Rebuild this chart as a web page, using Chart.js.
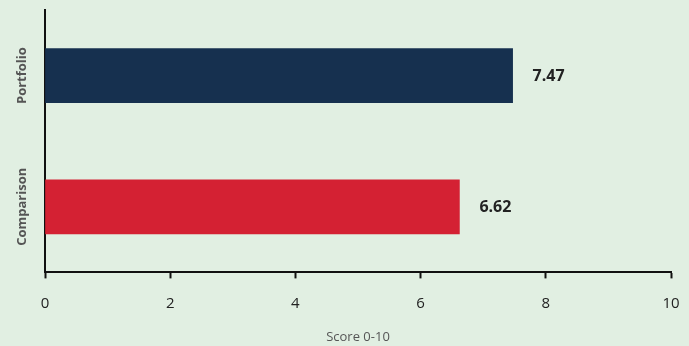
<!DOCTYPE html>
<html>
<head>
<meta charset="utf-8">
<script src="https://cdn.jsdelivr.net/npm/chart.js@4/dist/chart.umd.min.js"></script>
<style>
  html, body { margin: 0; padding: 0; background: #e1efe2; }
  #wrap { width: 689px; height: 346px; }
</style>
</head>
<body>
<div id="wrap"><canvas id="myChart"></canvas></div>
<script>
var categories = ['Portfolio', 'Comparison'];
var scores = [7.47, 6.62];
var barColors = ['#16304f', '#d42133'];
var xTicks = [0, 2, 4, 6, 8, 10];

// value labels right of the bars + rotated category labels
var labelsPlugin = {
    id: 'labelsPlugin',
    afterDatasetsDraw(chart) {
        var ctx = chart.ctx;
        var meta = chart.getDatasetMeta(0);
        var yScale = chart.scales.y;
        ctx.save();
        ctx.font = 'bold 16px "Open Sans"';
        ctx.fillStyle = '#222';
        ctx.textBaseline = 'middle';
        meta.data.forEach(function (bar, i) {
            ctx.fillText(scores[i].toFixed(2), bar.x + 20, bar.y + 1);
        });
        ctx.font = 'bold 13px "Open Sans"';
        ctx.fillStyle = '#555';
        ctx.textAlign = 'center';
        categories.forEach(function (c, i) {
            ctx.save();
            ctx.translate(22, yScale.getPixelForValue(i));
            ctx.rotate(-Math.PI / 2);
            ctx.fillText(c, 0, 0);
            ctx.restore();
        });
        ctx.restore();
    }
};

var ctx = document.getElementById('myChart');
var myChart = new Chart(ctx, {
    type: 'bar',
    data: {
        labels: categories,
        datasets: [{
            data: scores,
            backgroundColor: barColors,
            barThickness: 54
        }]
    },
    options: {
        indexAxis: 'y',
        responsive: true,
        maintainAspectRatio: false,
        animation: false,
        layout: { padding: { top: 10, right: 18, left: 45, bottom: 1 } },
        plugins: { legend: { display: false }, tooltip: { enabled: false } },
        scales: {
            x: {
                min: 0,
                max: 10,
                afterBuildTicks: function (axis) {
                    axis.ticks = xTicks.map(function (v) { return { value: v }; });
                },
                afterFit: function (axis) {
                    axis.paddingRight = 0;
                    axis.paddingLeft = 0;
                },
                grid: { display: true, drawOnChartArea: false, drawTicks: true, tickLength: 6, tickColor: '#111', tickWidth: 2 },
                border: { color: '#111', width: 2 },
                ticks: { color: '#222', font: { family: 'Open Sans', size: 15 }, padding: 16 },
                title: { display: true, text: 'Score 0-10', color: '#555', font: { family: 'Open Sans', size: 13 }, padding: { top: 1, bottom: 0 } }
            },
            y: {
                grid: { display: false, drawTicks: false },
                border: { color: '#111', width: 2 },
                ticks: { display: false }
            }
        }
    },
    plugins: [labelsPlugin]
});
</script>
</body>
</html>
